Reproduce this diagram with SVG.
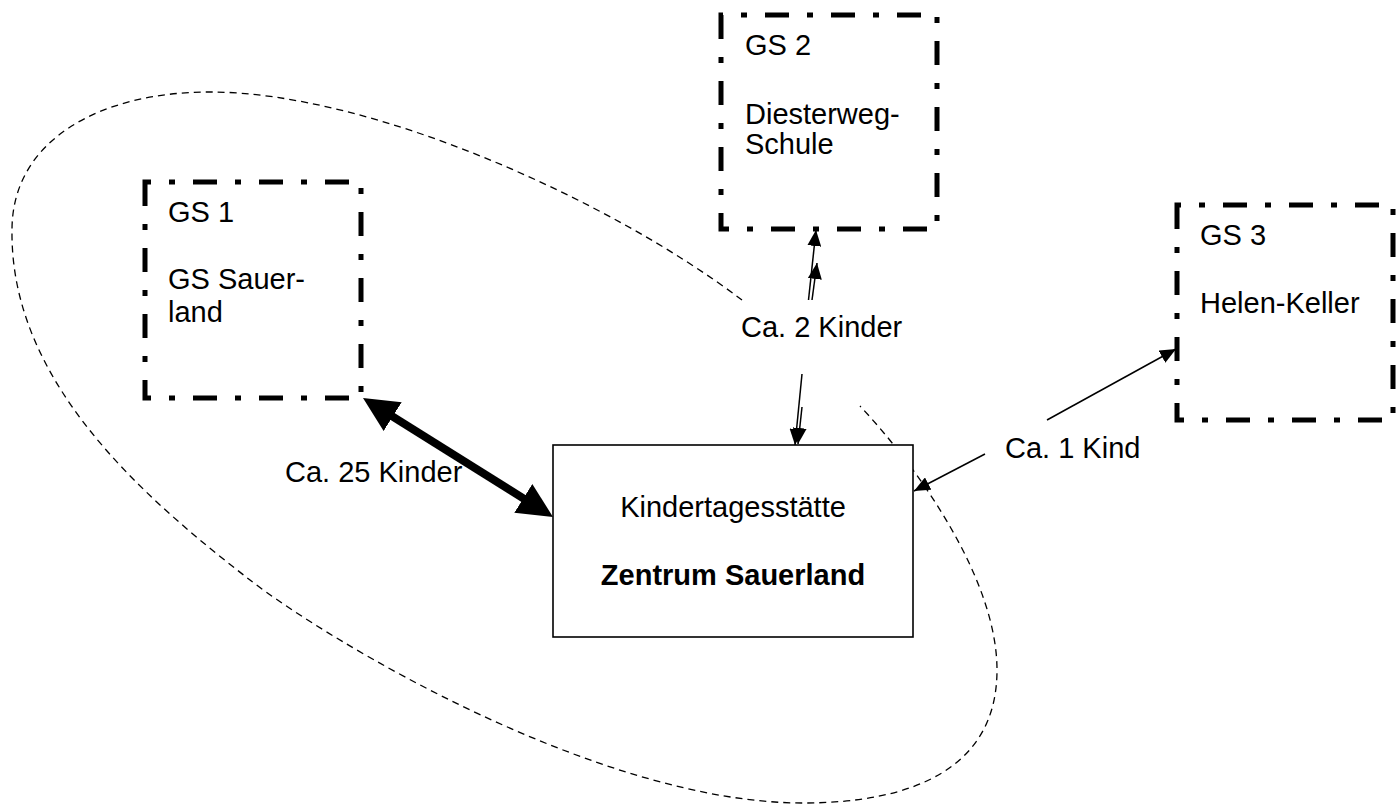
<svg xmlns="http://www.w3.org/2000/svg" width="1399" height="809" viewBox="0 0 1399 809">
<style>
text{font-family:"Liberation Sans",Arial,sans-serif;font-size:29px;fill:#000}
.b{font-weight:bold}
.gs{fill:none;stroke:#000;stroke-width:5;stroke-dasharray:24 18 6 18;stroke-linejoin:miter;stroke-linecap:butt}
.kita{fill:#fff;stroke:#000;stroke-width:1.6}
.thin{fill:none;stroke:#000;stroke-width:1.5;marker-end:url(#ah)}
.thick{fill:none;stroke:#000;stroke-width:8;marker-start:url(#big);marker-end:url(#big)}
.loop{fill:none;stroke:#000;stroke-width:1.3;stroke-dasharray:7 5}
</style>
<defs>
<marker id="ah" viewBox="0 0 16 14" refX="16" refY="7" markerWidth="16" markerHeight="14" markerUnits="userSpaceOnUse" orient="auto"><path d="M0,0 L16,7 L0,14 z" fill="#000"/></marker>
<marker id="big" viewBox="0 0 35 34" refX="23" refY="17" markerWidth="35" markerHeight="34" markerUnits="userSpaceOnUse" orient="auto-start-reverse"><path d="M0,0 L35,17 L0,34 z" fill="#000"/></marker>
</defs>
<rect width="1399" height="809" fill="#fff"/>
<g id="boundary">
<path class="loop" d="M742,300 C610,200 370,92 210,92 C100,92 12,140 12,230 C10,380 140,495 250,580 C330,642 600,803 803,803 C910,803 997,770 997,670 C997,580 920,470 860,406"/>
</g>
<g id="gs1">
<path class="gs" d="M145,182 V398 H361 V182 Z"/>
<text x="168" y="222">GS 1</text>
<text x="168" y="289">GS Sauer-</text>
<text x="168" y="322">land</text>
</g>
<g id="gs2">
<path class="gs" d="M721,15 V229 H937 V15 Z"/>
<text x="745" y="55">GS 2</text>
<text x="745" y="124">Diesterweg-</text>
<text x="745" y="154">Schule</text>
</g>
<g id="gs3">
<path class="gs" d="M1177,205 V420 H1393 V205 Z"/>
<text x="1200" y="245">GS 3</text>
<text x="1200" y="313">Helen-Keller</text>
</g>
<g id="kita">
<rect class="kita" x="553" y="445" width="360" height="192"/>
<text x="733" y="517" text-anchor="middle">Kindertagesstätte</text>
<text class="b" x="733" y="585" text-anchor="middle">Zentrum Sauerland</text>
</g>
<g id="connectors">
<line class="thick" x1="373.2" y1="404.4" x2="542.8" y2="510.6"/>
<line class="thin" x1="808.5" y1="300" x2="816" y2="230"/>
<line class="thin" x1="812" y1="300" x2="817" y2="263"/>
<line class="thin" x1="802" y1="374" x2="795" y2="445"/>
<line class="thin" x1="802" y1="407" x2="798" y2="444"/>
<line class="thin" x1="1047" y1="420" x2="1176" y2="349"/>
<line class="thin" x1="985" y1="454" x2="914" y2="491"/>
</g>
<g id="labels">
<text x="285" y="482">Ca. 25 Kinder</text>
<text x="741" y="337">Ca. 2 Kinder</text>
<text x="1005" y="458">Ca. 1 Kind</text>
</g>
</svg>
